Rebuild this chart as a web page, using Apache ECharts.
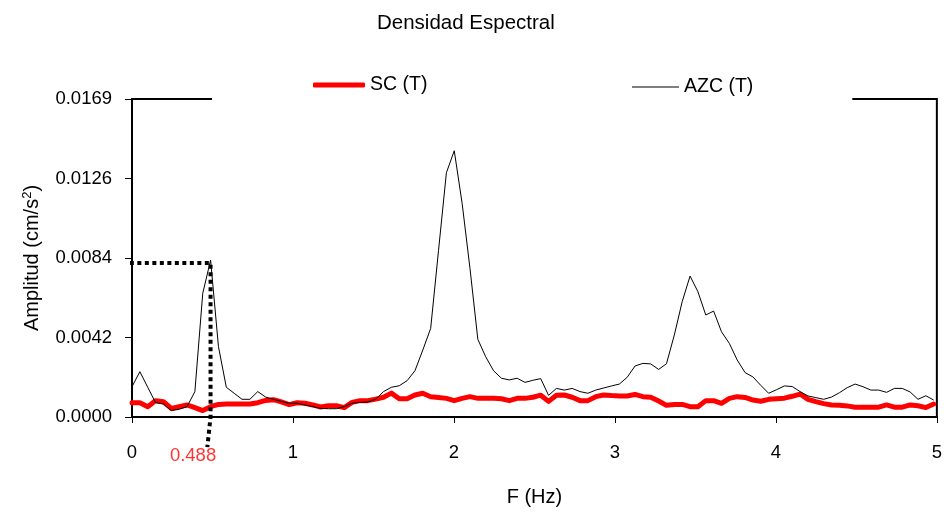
<!DOCTYPE html>
<html>
<head>
<meta charset="utf-8">
<title>Densidad Espectral</title>
<script src="https://cdn.jsdelivr.net/npm/echarts@6/dist/echarts.min.js"></script>
<style>
  html, body { margin: 0; padding: 0; background: #fff; }
  #chart { width: 945px; height: 514px; }
</style>
</head>
<body>
<div id="chart"></div>
<script>
// Spectral bin width (Hz) of both spectra
const DF = 0.048828125;

// Amplitude spectrum, SC (T)
const scValues = [
  0.00076, 0.00076, 0.00055, 0.00087, 0.00081, 0.00046, 0.00055, 0.00064, 0.00050, 0.00034,
  0.00055, 0.00067, 0.00069, 0.00069, 0.00069, 0.00069, 0.00076, 0.00088, 0.00092, 0.00080,
  0.00066, 0.00076, 0.00073, 0.00064, 0.00053, 0.00060, 0.00060, 0.00050, 0.00078, 0.00087,
  0.00087, 0.00095, 0.00105, 0.00127, 0.00097, 0.00097, 0.00117, 0.00126, 0.00108, 0.00104,
  0.00099, 0.00087, 0.00099, 0.00108, 0.00099, 0.00099, 0.00099, 0.00097, 0.00087, 0.00099,
  0.00099, 0.00105, 0.00116, 0.00083, 0.00116, 0.00117, 0.00105, 0.00087, 0.00087, 0.00108,
  0.00117, 0.00114, 0.00112, 0.00112, 0.00120, 0.00108, 0.00105, 0.00085, 0.00062, 0.00067,
  0.00067, 0.00055, 0.00055, 0.00087, 0.00087, 0.00073, 0.00099, 0.00108, 0.00104, 0.00090,
  0.00084, 0.00094, 0.00097, 0.00100, 0.00110, 0.00122, 0.00094, 0.00082, 0.00071, 0.00064,
  0.00062, 0.00059, 0.00052, 0.00052, 0.00052, 0.00052, 0.00064, 0.00052, 0.00052, 0.00064,
  0.00060, 0.00050, 0.00069
];

// Amplitude spectrum, AZC (T)
const azcValues = [
  0.00161, 0.00241, 0.00158, 0.00076, 0.00069, 0.00034, 0.00041, 0.00055, 0.00135, 0.00657,
  0.00834, 0.00374, 0.00158, 0.00126, 0.00094, 0.00094, 0.00135, 0.00106, 0.00094, 0.00083,
  0.00073, 0.00073, 0.00064, 0.00055, 0.00046, 0.00044, 0.00044, 0.00055, 0.00073, 0.00078,
  0.00080, 0.00094, 0.00135, 0.00158, 0.00166, 0.00193, 0.00246, 0.00356, 0.00471, 0.00886,
  0.01298, 0.01415, 0.01136, 0.00790, 0.00413, 0.00320, 0.00246, 0.00206, 0.00197, 0.00206,
  0.00184, 0.00195, 0.00204, 0.00115, 0.00152, 0.00143, 0.00152, 0.00135, 0.00126, 0.00143,
  0.00154, 0.00165, 0.00175, 0.00211, 0.00271, 0.00285, 0.00282, 0.00253, 0.00283, 0.00436,
  0.00613, 0.00749, 0.00666, 0.00542, 0.00563, 0.00453, 0.00391, 0.00303, 0.00236, 0.00213,
  0.00168, 0.00126, 0.00145, 0.00165, 0.00162, 0.00135, 0.00112, 0.00103, 0.00094, 0.00106,
  0.00129, 0.00156, 0.00175, 0.00161, 0.00143, 0.00143, 0.00131, 0.00152, 0.00152, 0.00133,
  0.00094, 0.00113, 0.00090
];

// Axis tick labels
const yTickLabels = ['0.0000', '0.0042', '0.0084', '0.0126', '0.0169'];
const xTickLabels = ['0', '1', '2', '3', '4', '5'];

// Marked peak: frequency and amplitude
const peakFreq = 0.488;
const peakAmp = 0.00818;

const toPairs = vals => vals.map((v, i) => [i * DF, v]);

const FONT = '"Liberation Sans", Arial, sans-serif';
const TICK_FS = 18.5;
const chart = echarts.init(document.getElementById('chart'), null, { renderer: 'canvas' });

const legendText = { fontFamily: FONT, fontSize: 19.5, color: '#000' };

chart.setOption({
  animation: false,
  backgroundColor: '#ffffff',
  textStyle: { fontFamily: FONT, color: '#000' },
  title: {
    text: 'Densidad Espectral',
    left: 372,
    top: 8,
    textStyle: { fontFamily: FONT, fontSize: 20.5, fontWeight: 'normal', color: '#000' }
  },
  legend: [
    {
      // thick red key; its white box also interrupts the plot frame
      data: [{ name: 'SC (T)', icon: 'roundRect' }],
      left: 212,
      top: 68,
      padding: [7, 90, 24, 101],
      itemWidth: 52,
      itemHeight: 5,
      itemGap: 5,
      backgroundColor: '#ffffff',
      textStyle: legendText
    },
    {
      data: [{ name: 'AZC (T)', icon: 'rect' }],
      left: 480,
      top: 68,
      padding: [9, 99, 24, 152],
      itemWidth: 47,
      itemHeight: 1,
      backgroundColor: '#ffffff',
      textStyle: legendText
    }
  ],
  grid: {
    left: 132,
    right: 5,
    top: 99,
    bottom: 97,
    show: true,
    borderColor: '#000',
    borderWidth: 2,
    backgroundColor: 'transparent'
  },
  xAxis: {
    type: 'value',
    min: 0,
    max: 5,
    interval: 1,
    name: 'F (Hz)',
    nameLocation: 'middle',
    nameGap: 70,
    nameTextStyle: { fontFamily: FONT, fontSize: 20, color: '#000' },
    axisLine: { onZero: false, lineStyle: { color: '#000', width: 2 } },
    axisTick: { show: true, length: 6, lineStyle: { color: '#000', width: 1 } },
    axisLabel: {
      fontFamily: FONT, fontSize: TICK_FS, color: '#000', margin: 26,
      formatter: (v, i) => xTickLabels[i]
    },
    splitLine: { show: false }
  },
  yAxis: {
    type: 'value',
    min: 0,
    max: 0.0169,
    interval: 0.004225,
    name: 'Amplitud (cm/s{sup|2})',
    nameLocation: 'middle',
    nameRotate: 90,
    nameGap: 88,
    nameTextStyle: {
      fontFamily: FONT, fontSize: 20, color: '#000',
      rich: { sup: { fontFamily: FONT, fontSize: 13, color: '#000', padding: [0, 0, 10, 0] } }
    },
    axisLine: { lineStyle: { color: '#000', width: 2 } },
    axisTick: { show: true, length: 7, lineStyle: { color: '#000', width: 1 } },
    axisLabel: {
      fontFamily: FONT, fontSize: TICK_FS, color: '#000', margin: 20,
      formatter: (v, i) => yTickLabels[i]
    },
    splitLine: { show: false }
  },
  series: [
    {
      name: 'SC (T)',
      type: 'line',
      data: toPairs(scValues),
      symbol: 'none',
      lineStyle: { color: '#ff0000', width: 5, cap: 'round', join: 'round' },
      itemStyle: { color: '#ff0000' },
      z: 2
    },
    {
      name: 'AZC (T)',
      type: 'line',
      data: toPairs(azcValues),
      symbol: 'none',
      lineStyle: { color: '#000', width: 1 },
      itemStyle: { color: '#000' },
      z: 3
    },
    {
      // dotted guide lines to the marked peak
      name: 'guide',
      type: 'line',
      data: [[-0.06, peakAmp], [peakFreq, peakAmp], [peakFreq, 0], [peakFreq - 0.02, -0.0016]],
      symbol: 'none',
      clip: false,
      silent: true,
      lineStyle: { color: '#000', width: 4, type: [4, 3.5] },
      z: 4
    },
    {
      // frequency label of the marked peak
      name: 'peakLabel',
      type: 'scatter',
      data: [[peakFreq, 0]],
      symbolSize: 0,
      clip: false,
      silent: true,
      label: {
        show: true,
        position: 'bottom',
        distance: 29,
        offset: [-17.5, 0],
        formatter: () => String(peakFreq),
        fontFamily: FONT,
        fontSize: TICK_FS,
        color: '#ff0000'
      },
      z: 5
    }
  ]
});
</script>
</body>
</html>
